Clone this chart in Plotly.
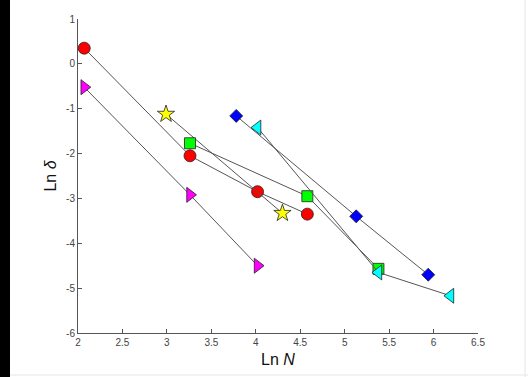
import plotly.graph_objects as go

red_x = [2.07, 3.26, 4.02, 4.58]
red_y = [0.35, -2.05, -2.85, -3.35]
mag_x = [2.07, 3.26, 4.02]
mag_y = [-0.52, -2.92, -4.50]
star_x = [2.99, 4.30]
star_y = [-1.12, -3.33]
green_x = [3.26, 4.58, 5.38]
green_y = [-1.77, -2.95, -4.57]
blue_x = [3.78, 5.13, 5.94]
blue_y = [-1.16, -3.40, -4.70]
cyan_x = [4.02, 5.38, 6.19]
cyan_y = [-1.42, -4.65, -5.17]

x_ticks = [2, 2.5, 3, 3.5, 4, 4.5, 5, 5.5, 6, 6.5]
x_tick_text = ["2", "2.5", "3", "3.5", "4", "4.5", "5", "5.5", "6", "6.5"]
y_ticks = [1, 0, -1, -2, -3, -4, -5, -6]
y_tick_text = ["1", "0", "-1", "-2", "-3", "-4", "-5", "-6"]

series = [
    (red_x, red_y, "circle", "#ff0000", 12),
    (mag_x, mag_y, "triangle-right", "#ff00ff", 13),
    (star_x, star_y, "star", "#ffff00", 13),
    (green_x, green_y, "square", "#00ff00", 11),
    (blue_x, blue_y, "diamond", "#0000ff", 10),
    (cyan_x, cyan_y, "triangle-left", "#00ffff", 13),
]

fig = go.Figure()
for xs, ys, sym, col, sz in series:
    fig.add_trace(go.Scatter(
        x=xs, y=ys, mode="lines+markers",
        line=dict(color="#555555", width=1),
        marker=dict(symbol=sym, color=col, size=sz,
                    line=dict(color="#222222", width=0.8)),
        showlegend=False,
    ))

axis_common = dict(
    showgrid=False, zeroline=False, showline=True, linecolor="#555555",
    linewidth=1, ticks="inside", ticklen=4, tickcolor="#555555",
    tickfont=dict(family="Liberation Sans, Arial", size=10, color="#444444"),
    mirror=False,
)

fig.update_layout(
    width=528, height=377,
    margin=dict(l=78, r=50, t=19, b=44),
    paper_bgcolor="white", plot_bgcolor="white",
    xaxis=dict(range=[2, 6.5], tickvals=x_ticks, ticktext=x_tick_text,
               title=dict(text="Ln <i>N</i>", standoff=6,
                          font=dict(family="Liberation Sans, Arial", size=16, color="#111111")),
               **axis_common),
    yaxis=dict(range=[-6, 1], tickvals=y_ticks, ticktext=y_tick_text,
               title=dict(text="Ln <i>δ</i>", standoff=5,
                          font=dict(family="Liberation Sans, Arial", size=16, color="#111111")),
               **axis_common),
    shapes=[
        dict(type="rect", xref="paper", yref="paper",
             x0=-0.3, x1=-0.17, y0=-0.2, y1=1.1,
             fillcolor="black", line=dict(width=0), layer="below"),
        dict(type="line", xref="paper", yref="paper",
             x0=1.1175, x1=1.1175, y0=-0.2, y1=1.1,
             line=dict(color="#e6e6e6", width=1), layer="below"),
        dict(type="line", xref="paper", yref="paper",
             x0=-0.17, x1=1.2, y0=-0.1338, y1=-0.1338,
             line=dict(color="#e6e6e6", width=1), layer="below"),
    ],
)

fig.write_html("out.html", config={"displayModeBar": False},
               post_script="document.body.style.margin='0';document.body.style.overflow='hidden';")
